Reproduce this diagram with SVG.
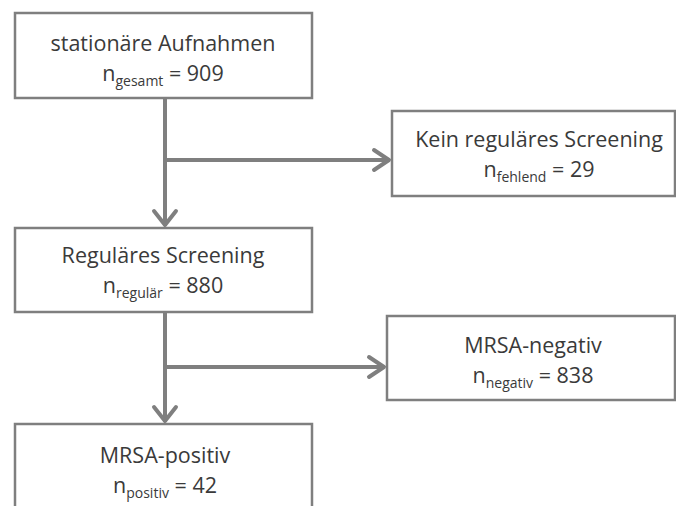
<svg xmlns="http://www.w3.org/2000/svg" width="676" height="506" viewBox="0 0 676 506">
<defs>
<style>
.box{fill:#fff;stroke:#7f7f7f;stroke-width:2.5}
.t{font-family:"Open Sans","Liberation Sans",sans-serif;font-size:21.5px;fill:#3a3a3a;text-anchor:middle}
.s{font-size:14px}
.c{fill:none;stroke:#7f7f7f;stroke-width:4}
.h{fill:none;stroke:#7f7f7f;stroke-width:4;stroke-linecap:round;stroke-linejoin:round}
</style>
</defs>
<rect width="676" height="506" fill="#fff"/>
<g id="connectors">
<line class="c" x1="165" y1="98" x2="165" y2="226"/>
<polyline class="h" points="154,211 165,225 176,211"/>
<line class="c" x1="165" y1="160" x2="389" y2="160"/>
<polyline class="h" points="374,150 389,160 374,170"/>
<line class="c" x1="165" y1="312" x2="165" y2="422"/>
<polyline class="h" points="154,407 165,421 176,407"/>
<line class="c" x1="165" y1="367" x2="384" y2="367"/>
<polyline class="h" points="369,357 384,367 369,377"/>
</g>
<g id="n1">
<rect class="box" x="15" y="13" width="297" height="85"/>
<text class="t" x="163" y="51">stationäre Aufnahmen</text>
<text class="t" x="163" y="81">n<tspan class="s" dy="5">gesamt</tspan><tspan dy="-5"> = 909</tspan></text>
</g>
<g id="n2">
<rect class="box" x="392" y="111" width="283" height="85"/>
<text class="t" x="539" y="147">Kein reguläres Screening</text>
<text class="t" x="539" y="177">n<tspan class="s" dy="5">fehlend</tspan><tspan dy="-5"> = 29</tspan></text>
</g>
<g id="n3">
<rect class="box" x="15" y="228" width="297" height="84"/>
<text class="t" x="163" y="263">Reguläres Screening</text>
<text class="t" x="163" y="293">n<tspan class="s" dy="5">regulär</tspan><tspan dy="-5"> = 880</tspan></text>
</g>
<g id="n4">
<rect class="box" x="387" y="316" width="288" height="84"/>
<text class="t" x="533" y="353">MRSA-negativ</text>
<text class="t" x="533" y="383">n<tspan class="s" dy="5">negativ</tspan><tspan dy="-5"> = 838</tspan></text>
</g>
<g id="n5">
<rect class="box" x="15" y="424" width="297" height="90"/>
<text class="t" x="165" y="463">MRSA-positiv</text>
<text class="t" x="165" y="493">n<tspan class="s" dy="5">positiv</tspan><tspan dy="-5"> = 42</tspan></text>
</g>
</svg>
